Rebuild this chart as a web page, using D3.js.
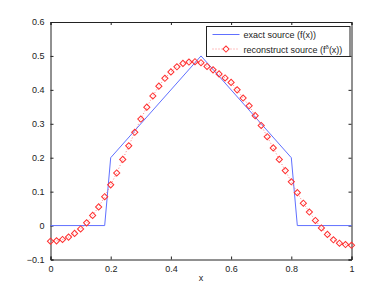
<!DOCTYPE html>
<html>
<head>
<meta charset="utf-8">
<script src="https://cdn.jsdelivr.net/npm/d3@7"></script>
<style>
  body { margin: 0; background: #fff; }
  svg text { font-family: "Liberation Sans", Arial, sans-serif; font-size: 9px; fill: #222; }
</style>
</head>
<body>
<div id="chart"></div>
<script>
// exact source f(x), piecewise linear
var exactX = [0, 0.18, 0.2, 0.5, 0.8, 0.82, 1];
var exactY = [0, 0, 0.2, 0.5, 0.2, 0, 0];

// reconstructed source, sampled every 0.02
var reconX = d3.range(51).map(function (i) { return i / 50; });
var reconY = [
  -0.046, -0.045, -0.041, -0.034, -0.023, -0.010, 0.008, 0.030, 0.055, 0.085,
  0.120, 0.155, 0.195, 0.235, 0.275, 0.314, 0.349, 0.382, 0.411, 0.434,
  0.453, 0.468, 0.478, 0.482, 0.483, 0.480, 0.469, 0.459, 0.447, 0.435,
  0.422, 0.400, 0.376, 0.353, 0.324, 0.295, 0.262, 0.229, 0.195, 0.162,
  0.129, 0.097, 0.066, 0.040, 0.015, -0.007, -0.026, -0.042, -0.052, -0.056,
  -0.058
];

var xTicks = [0, 0.2, 0.4, 0.6, 0.8, 1];
var yTicks = [-0.1, 0, 0.1, 0.2, 0.3, 0.4, 0.5, 0.6];

var width = 388, height = 292;
var m = {left: 50.5, right: 36.5, top: 22, bottom: 32.5};

var svg = d3.select("#chart").append("svg")
  .attr("width", width)
  .attr("height", height);

var x = d3.scaleLinear().domain([0, 1]).range([m.left, width - m.right]);
var y = d3.scaleLinear().domain([-0.1, 0.6]).range([height - m.bottom, m.top]);

function fmt(d) {
  return d === 0 ? "0" : d3.format("")(d).replace("-", "\u2212");
}

// axes with inward ticks
svg.append("g")
  .attr("transform", "translate(0," + y(-0.1) + ")")
  .call(d3.axisBottom(x).tickValues(xTicks).tickSize(-3).tickPadding(6).tickFormat(fmt));
svg.append("g")
  .attr("transform", "translate(0," + y(0.6) + ")")
  .call(d3.axisTop(x).tickValues(xTicks).tickSize(-3).tickFormat(""));
svg.append("g")
  .attr("transform", "translate(" + x(0) + ",0)")
  .call(d3.axisLeft(y).tickValues(yTicks).tickSize(-3).tickPadding(6).tickFormat(fmt));
svg.append("g")
  .attr("transform", "translate(" + x(1) + ",0)")
  .call(d3.axisRight(y).tickValues(yTicks).tickSize(-3).tickFormat(""));

svg.selectAll(".domain").attr("stroke", "#222");
svg.selectAll(".tick line").attr("stroke", "#222");
svg.selectAll(".tick text").style("font-size", "9px").attr("fill", "#222");

svg.append("text")
  .attr("x", x(0.5))
  .attr("y", height - 11)
  .attr("text-anchor", "middle")
  .text("x");

var line = d3.line()
  .x(function (d) { return x(d[0]); })
  .y(function (d) { return y(d[1]); });

var exact = d3.zip(exactX, exactY);
var recon = d3.zip(reconX, reconY);

svg.append("path")
  .datum(exact)
  .attr("fill", "none")
  .attr("stroke", "#6070ff")
  .attr("stroke-width", 1)
  .attr("d", line);

svg.append("path")
  .datum(recon)
  .attr("fill", "none")
  .attr("stroke", "#ff6060")
  .attr("stroke-width", 0.8)
  .attr("stroke-dasharray", "1,2")
  .attr("d", line);

var diamond = d3.symbol().type(d3.symbolSquare).size(19);

svg.selectAll(".marker")
  .data(recon)
  .enter()
  .append("path")
  .attr("class", "marker")
  .attr("d", diamond)
  .attr("transform", function (d) { return "translate(" + x(d[0]) + "," + y(d[1]) + ") rotate(45)"; })
  .attr("fill", "none")
  .attr("stroke", "#ff3030")
  .attr("stroke-width", 1);

// legend
var lg = svg.append("g").attr("transform", "translate(206.5,26.5)");
lg.append("rect")
  .attr("width", 143.5)
  .attr("height", 30)
  .attr("fill", "#fff")
  .attr("stroke", "#222")
  .attr("stroke-width", 1);

lg.append("line")
  .attr("x1", 6).attr("x2", 33).attr("y1", 8).attr("y2", 8)
  .attr("stroke", "#6070ff").attr("stroke-width", 1);
lg.append("text").attr("x", 37).attr("y", 11.5).text("exact source (f(x))");

lg.append("line")
  .attr("x1", 6).attr("x2", 33).attr("y1", 22.5).attr("y2", 22.5)
  .attr("stroke", "#ff6060").attr("stroke-width", 0.8).attr("stroke-dasharray", "1,2");
lg.append("path")
  .attr("d", diamond)
  .attr("transform", "translate(19.5,22.5) rotate(45)")
  .attr("fill", "#fff")
  .attr("stroke", "#ff3030")
  .attr("stroke-width", 1);
var t2 = lg.append("text").attr("x", 37).attr("y", 26);
t2.append("tspan").text("reconstruct source (f");
t2.append("tspan").attr("dy", -4).style("font-size", "6px").text("\u03b4");
t2.append("tspan").attr("dy", 4).text("(x))");
</script>
</body>
</html>
